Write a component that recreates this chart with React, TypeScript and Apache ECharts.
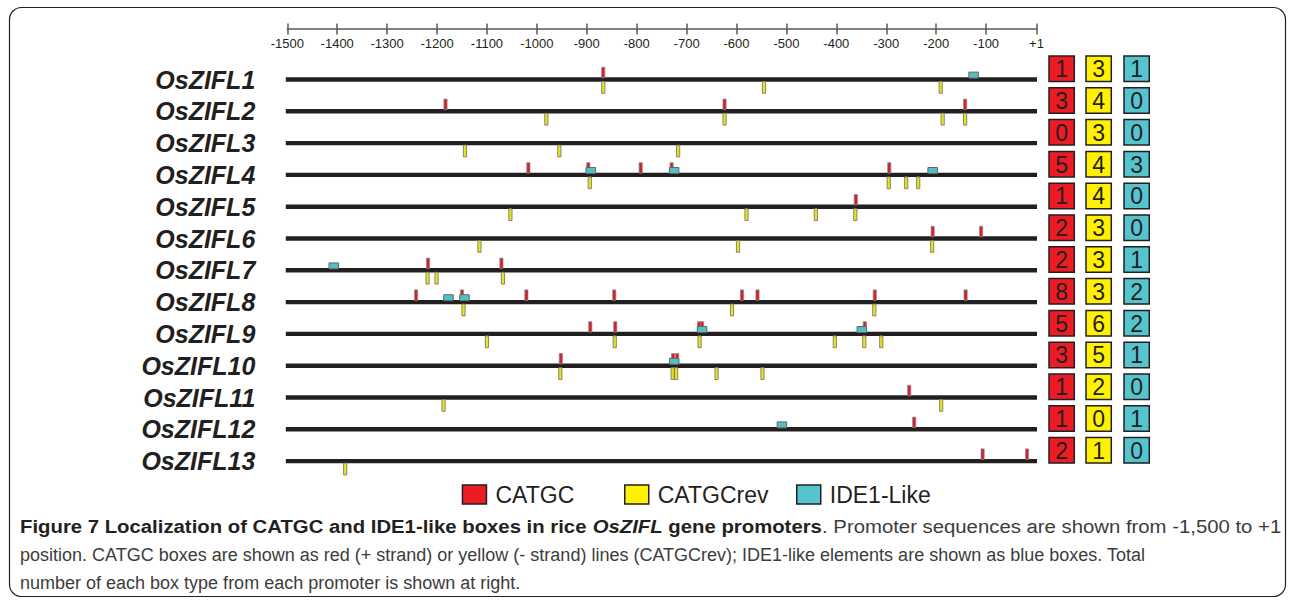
import React, { useEffect, useRef } from 'react';
import * as echarts from 'echarts';

// ---------- data ----------
const genes = [
  'OsZIFL1', 'OsZIFL2', 'OsZIFL3', 'OsZIFL4', 'OsZIFL5', 'OsZIFL6', 'OsZIFL7',
  'OsZIFL8', 'OsZIFL9', 'OsZIFL10', 'OsZIFL11', 'OsZIFL12', 'OsZIFL13',
];

const axisTickValues = [
  -1500, -1400, -1300, -1200, -1100, -1000, -900, -800, -700, -600, -500, -400, -300, -200, -100, 1,
];

// CATGC (+ strand) positions, red
const catgcPos: number[][] = [
  [-867],
  [-1183, -624, -142],
  [],
  [-1017, -897, -792, -730, -294],
  [-361],
  [-207, -110],
  [-1218, -1071],
  [-1242, -1150, -1021, -845, -589, -558, -323, -141],
  [-893, -843, -675, -669, -343],
  [-952, -727, -719],
  [-254],
  [-244],
  [-107, -18],
];

// CATGCrev (- strand) positions, yellow
const catgcRevPos: number[][] = [
  [-867, -545, -191],
  [-981, -624, -187, -142],
  [-1144, -955, -717],
  [-894, -295, -260, -236],
  [-1053, -580, -441, -362],
  [-1115, -597, -208],
  [-1219, -1201, -1068],
  [-1147, -609, -324],
  [-1100, -844, -674, -403, -344, -310],
  [-953, -728, -721, -640, -548],
  [-1187, -190],
  [],
  [-1384],
];

// IDE1-like element positions, blue boxes
const ide1Pos: number[][] = [
  [-125],
  [],
  [],
  [-892, -725, -207],
  [],
  [],
  [-1407],
  [-1177, -1145],
  [-669, -349],
  [-725],
  [],
  [-509],
  [],
];

const catgcCount = [1, 3, 0, 5, 1, 2, 2, 8, 5, 3, 1, 1, 2];
const catgcRevCount = [3, 4, 3, 4, 4, 3, 3, 3, 6, 5, 2, 0, 1];
const ide1Count = [1, 0, 0, 3, 0, 0, 1, 2, 2, 1, 0, 1, 0];

const legendNames = ['CATGC', 'CATGCrev', 'IDE1-Like'];

// ---------- styles ----------
const RED = '#ED1C24';
const YELLOW = '#FFF200';
const CYAN = '#55C4CF';
const DARK = '#231F20';
const FONT = '"Liberation Sans", Arial, sans-serif';
const CAPTION_FONT = '"Liberation Sans", Arial, sans-serif';
const CAPTION_GREY = '#3c3c3c';

export default function App() {
  const ref = useRef<HTMLDivElement>(null);

  useEffect(() => {
    if (!ref.current) return;
    const chart = echarts.init(ref.current, null, { renderer: 'svg' });

    const backboneData = genes.map((_, i) => [-1500, i]);
    const redData = catgcPos.flatMap((arr, i) => arr.map((p) => [p, i]));
    const yellowData = catgcRevPos.flatMap((arr, i) => arr.map((p) => [p, i]));
    const cyanData = ide1Pos.flatMap((arr, i) => arr.map((p) => [p, i]));
    const countData = genes.map((_, i) => [1, i, catgcCount[i], catgcRevCount[i], ide1Count[i]]);

    const tickLabel = (v: number) => (v === 1 ? '+1' : String(v));

    const option: any = {
      animation: false,
      backgroundColor: '#ffffff',
      grid: [
        { left: 287.3, right: 253.5, top: 0, height: 29 },
        { left: 287.3, right: 253.5, top: 63.6, height: 413.4 },
      ],
      xAxis: [
        {
          gridIndex: 0,
          type: 'value',
          min: -1500,
          max: 1,
          interval: 100,
          position: 'bottom',
          axisLine: { show: true, lineStyle: { color: '#58595B', width: 1.5 } },
          axisTick: {
            show: true,
            inside: false,
            length: 5.5,
            customValues: axisTickValues,
            lineStyle: { color: '#58595B', width: 1.5 },
          },
          axisLabel: {
            show: true,
            customValues: axisTickValues,
            formatter: tickLabel,
            margin: 8,
            fontSize: 13,
            fontFamily: FONT,
            color: DARK,
          },
          splitLine: { show: false },
        },
        {
          gridIndex: 0,
          type: 'value',
          min: -1500,
          max: 1,
          interval: 100,
          position: 'bottom',
          offset: 0,
          axisLine: { show: false },
          axisTick: {
            show: true,
            inside: true,
            length: 5.5,
            customValues: axisTickValues,
            lineStyle: { color: '#58595B', width: 1.5 },
          },
          axisLabel: { show: false },
          splitLine: { show: false },
        },
        {
          gridIndex: 1,
          type: 'value',
          min: -1500,
          max: 1,
          show: false,
        },
      ],
      yAxis: [
        { gridIndex: 0, type: 'value', show: false },
        {
          gridIndex: 1,
          type: 'category',
          data: genes,
          inverse: true,
          axisLine: { show: false },
          axisTick: { show: false },
          splitLine: { show: false },
          axisLabel: {
            interval: 0,
            margin: 32,
            fontSize: 25,
            fontWeight: 'bold',
            fontStyle: 'italic',
            fontFamily: FONT,
            color: DARK,
          },
        },
      ],
      legend: legendNames.map((name, k) => ({
        left: [461.7, 624, 796][k],
        top: 483,
        padding: 0,
        itemWidth: 24,
        itemHeight: 19,
        selectedMode: false,
        textStyle: { fontSize: 23, fontFamily: FONT, color: DARK, padding: [0, 0, 0, 4] },
        data: [
          {
            name,
            icon: 'rect',
            itemStyle: { color: [RED, YELLOW, CYAN][k], borderColor: DARK, borderWidth: 1.5 },
          },
        ],
      })),
      series: [
        {
          type: 'custom',
          name: 'backbone',
          xAxisIndex: 2,
          yAxisIndex: 1,
          clip: false,
          data: backboneData,
          renderItem: (params: any, api: any) => {
            const i = api.value(1);
            const p0 = api.coord([-1500, i]);
            const p1 = api.coord([1, i]);
            return {
              type: 'rect',
              shape: { x: p0[0] - 1.5, y: p0[1] - 2.2, width: p1[0] - p0[0] + 2, height: 4.4 },
              style: { fill: DARK },
            };
          },
        },
        {
          type: 'custom',
          name: 'CATGCrev',
          xAxisIndex: 2,
          yAxisIndex: 1,
          clip: false,
          itemStyle: { color: YELLOW },
          data: yellowData,
          renderItem: (params: any, api: any) => {
            const p = api.coord([api.value(0), api.value(1)]);
            return {
              type: 'rect',
              shape: { x: p[0] - 1.6, y: p[1] + 2.0, width: 3.2, height: 11.8 },
              style: { fill: '#EDE21B', stroke: '#7a7a6a', lineWidth: 0.9 },
            };
          },
        },
        {
          type: 'custom',
          name: 'CATGC',
          xAxisIndex: 2,
          yAxisIndex: 1,
          clip: false,
          itemStyle: { color: RED },
          data: redData,
          renderItem: (params: any, api: any) => {
            const p = api.coord([api.value(0), api.value(1)]);
            return {
              type: 'rect',
              shape: { x: p[0] - 1.6, y: p[1] - 12.2, width: 3.2, height: 10.5 },
              style: { fill: '#D42129', stroke: '#8a8a8a', lineWidth: 0.7 },
            };
          },
        },
        {
          type: 'custom',
          name: 'IDE1-Like',
          xAxisIndex: 2,
          yAxisIndex: 1,
          clip: false,
          itemStyle: { color: CYAN },
          data: cyanData,
          renderItem: (params: any, api: any) => {
            const p = api.coord([api.value(0), api.value(1)]);
            return {
              type: 'rect',
              shape: { x: p[0] - 4.75, y: p[1] - 7.4, width: 9.5, height: 6 },
              style: { fill: '#4FBFCA', stroke: '#666666', lineWidth: 1 },
            };
          },
        },
        {
          type: 'custom',
          name: 'counts',
          xAxisIndex: 2,
          yAxisIndex: 1,
          clip: false,
          data: countData,
          renderItem: (params: any, api: any) => {
            const p = api.coord([1, api.value(1)]);
            const offsets = [12.5, 49.5, 87.5];
            const fills = [RED, YELLOW, CYAN];
            const children: any[] = [];
            offsets.forEach((off, k) => {
              const x = p[0] + off;
              const y = p[1] - 23.5;
              children.push({
                type: 'rect',
                shape: { x, y, width: 25.3, height: 25.5 },
                style: { fill: fills[k], stroke: DARK, lineWidth: 1.5 },
              });
              children.push({
                type: 'text',
                style: {
                  text: String(api.value(2 + k)),
                  x: x + 12.65,
                  y: y + 13.2,
                  align: 'center',
                  verticalAlign: 'middle',
                  font: `23px ${FONT}`,
                  fill: DARK,
                },
              });
            });
            return { type: 'group', children };
          },
        },
      ],
      graphic: [
        {
          type: 'rect',
          shape: { x: 9.5, y: 7.5, width: 1276, height: 589, r: 12 },
          style: { fill: 'none', stroke: DARK, lineWidth: 1.2 },
          silent: true,
        },
        {
          type: 'text',
          x: 20,
          y: 527,
          scaleX: 1.13,
          style: {
            text:
              '{b|Figure 7 Localization of CATGC and IDE1-like boxes in rice }{bi|OsZIFL}{b| gene promoters}{n|. Promoter sequences are shown from -1,500 to +1}',
            verticalAlign: 'middle',
            rich: {
              b: { fontFamily: CAPTION_FONT, fontSize: 18, fontWeight: 'bold', fill: DARK, color: DARK },
              bi: { fontFamily: CAPTION_FONT, fontSize: 18, fontWeight: 'bold', fontStyle: 'italic', fill: DARK, color: DARK },
              n: { fontFamily: CAPTION_FONT, fontSize: 18, fill: CAPTION_GREY, color: CAPTION_GREY },
            },
          },
        },
        {
          type: 'text',
          x: 20,
          y: 555,
          style: {
            text:
              'position. CATGC boxes are shown as red (+ strand) or yellow (- strand) lines (CATGCrev); IDE1-like elements are shown as blue boxes. Total',
            verticalAlign: 'middle',
            font: `18px ${CAPTION_FONT}`,
            fill: CAPTION_GREY,
          },
        },
        {
          type: 'text',
          x: 20,
          y: 583,
          style: {
            text: 'number of each box type from each promoter is shown at right.',
            verticalAlign: 'middle',
            font: `18px ${CAPTION_FONT}`,
            fill: CAPTION_GREY,
          },
        },
      ],
    };

    chart.setOption(option);
    return () => chart.dispose();
  }, []);

  return (
    <div
      ref={ref}
      style={{ position: 'fixed', left: 0, top: 0, width: 1290, height: 600, background: '#ffffff' }}
    />
  );
}
